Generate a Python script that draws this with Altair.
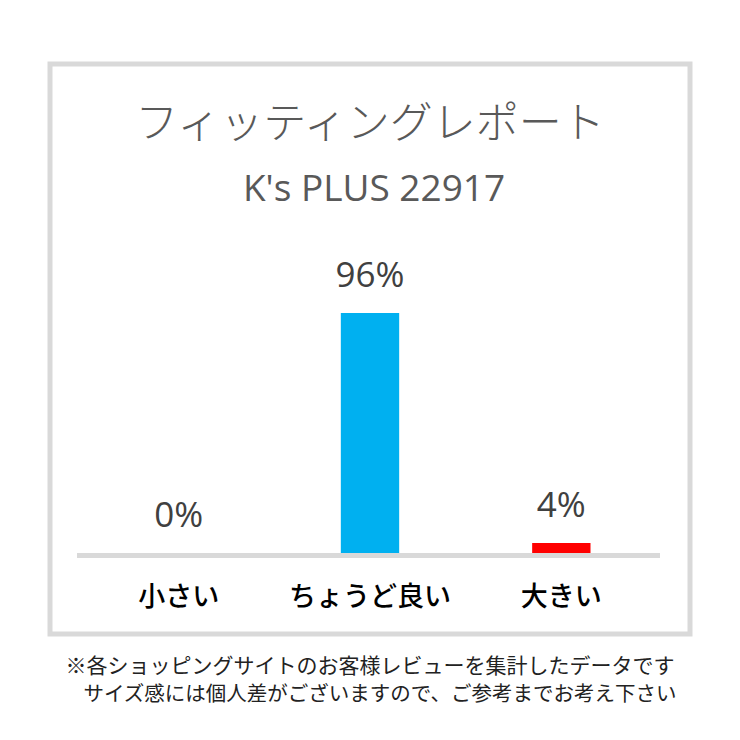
import altair as alt
import pandas as pd

# data
categories = ["小さい", "ちょうど良い", "大きい"]
shares = [0, 96, 4]
bar_colors = ["#00B0F0", "#00B0F0", "#FF0000"]
title_text = "フィッティングレポート"
subtitle_text = "K's PLUS 22917"
note_lines = [
    "※各ショッピングサイトのお客様レビューを集計したデータです",
    "サイズ感には個人差がございますので、ご参考までお考え下さい",
]

df = pd.DataFrame({"size": categories, "share": shares, "color": bar_colors})
df["label"] = df["share"].astype(str) + "%"

JP = "Noto Sans CJK JP"
W, H = 640, 570

x_enc = alt.X("size:N", sort=categories, axis=None,
              scale=alt.Scale(paddingInner=0.695, paddingOuter=0.52))
y_scale = alt.Scale(domain=[-32.4, 195.6], nice=False)

base = alt.Chart(df).encode(x=x_enc)

# gray floor line under the bars
floor = alt.Chart(pd.DataFrame({"v": [-1]})).mark_rule(
    color="#d9d9d9", strokeWidth=5
).encode(
    x=alt.value(27), x2=alt.value(610),
    y=alt.Y("v:Q", scale=y_scale, axis=None)
)

bars = base.mark_bar().encode(
    y=alt.Y("share:Q", scale=y_scale, axis=None),
    color=alt.Color("color:N", scale=None),
)

value_text = base.mark_text(
    fontSize=35, color="#404040", font="Open Sans", baseline="middle", dy=-37
).encode(y=alt.Y("share:Q", scale=y_scale, axis=None), text="label:N")

cat_text = base.mark_text(
    fontSize=27, color="#000000", font=JP, fontWeight=500, baseline="middle"
).encode(y=alt.YDatum(-18, scale=y_scale, axis=None), text="size:N")

def free_text(txt, xpos, ypos, size, color, font, weight="normal"):
    return alt.Chart(pd.DataFrame({"t": [txt]})).mark_text(
        fontSize=size, color=color, font=font, fontWeight=weight,
        baseline="middle", align="center"
    ).encode(x=alt.value(xpos), y=alt.value(ypos), text="t:N")

title = free_text(title_text, 320, 61, 43, "#595959", JP, 300)
subtitle = free_text(subtitle_text, 324, 126, 37, "#595959", "Open Sans")
note1 = free_text(note_lines[0], 320, 603, 21, "#222222", JP)
note2 = free_text(note_lines[1], 330, 631, 20.5, "#222222", JP)

chart = alt.layer(
    floor, bars, value_text, cat_text, title, subtitle, note1, note2
).properties(
    width=W, height=H,
    autosize=alt.AutoSizeParams(type="none"),
    padding={"left": 42, "top": 56, "right": 42, "bottom": 90},
    background="white",
).configure_view(stroke="#d9d9d9", strokeWidth=5)

chart.save("out.html", embed_options={"renderer": "svg", "actions": False})
